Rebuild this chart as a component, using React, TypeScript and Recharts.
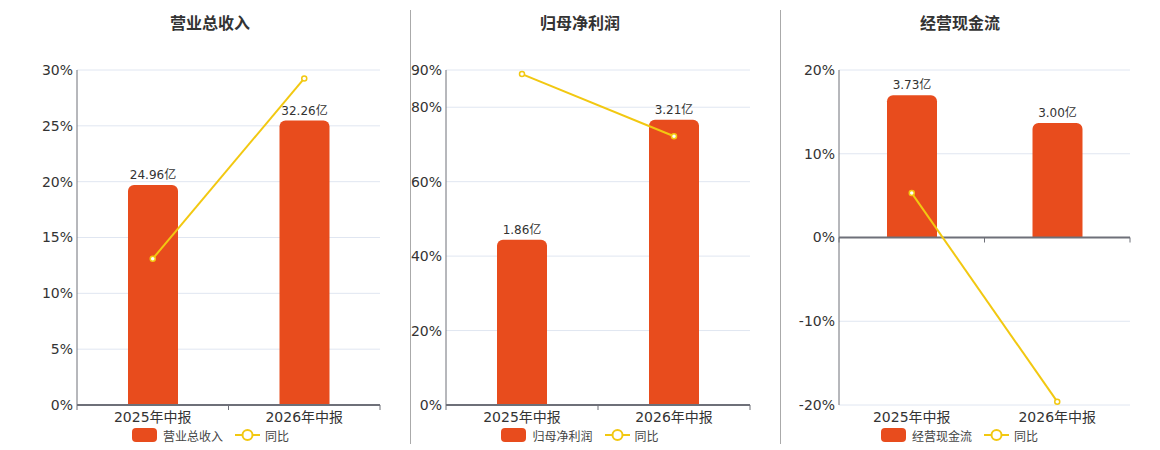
import React from 'react';
import {
  ComposedChart, Bar, Line, XAxis, YAxis, CartesianGrid, Legend, LabelList, ReferenceLine,
} from 'recharts';

// categories and values
const periods = ['2025年中报', '2026年中报'];

const revenue = [24.96, 32.26];
const revenueYoY = [13.1, 29.25];

const netProfit = [1.86, 3.21];
const netProfitYoY = [88.9, 72.2];

const cashFlow = [3.73, 3.0];
const cashFlowYoY = [5.3, -19.6];

const revenueTicks = [0, 5, 10, 15, 20, 25, 30];
const profitTicks = [0, 20, 40, 60, 80, 90];
const cashTicks = [-20, -10, 0, 10, 20];

const BAR = '#e84c1d';
const LINE = '#f2c811';
const AXIS = '#6e7079';
const GRID = '#e0e6f1';
const FONT = '"DejaVu Sans", "Noto Sans CJK SC", sans-serif';

const build = (values: number[], yoy: number[]) =>
  periods.map((p, i) => ({ name: p, value: values[i], yoy: yoy[i] }));

// zero line with ticks on the category boundaries
const ZeroAxis = (props: any) => {
  const { x1, x2, y1 } = props;
  const mid = (x1 + x2) / 2;
  return (
    <g>
      <line x1={x1} x2={x2} y1={y1} y2={y1} stroke={AXIS} strokeWidth={2} />
      {[x1, mid, x2].map((x, i) => (
        <line key={i} x1={x} x2={x} y1={y1} y2={y1 + 5} stroke={AXIS} strokeWidth={1} />
      ))}
    </g>
  );
};

const LegendBox = ({ label, shift }: { label: string; shift: number }) => (
  <div
    style={{
      display: 'flex', justifyContent: 'center', alignItems: 'center', height: 20,
      fontFamily: FONT, fontSize: 12, color: '#444', transform: `translateX(${shift}px)`,
    }}
  >
    <svg width={25} height={14} style={{ marginRight: 6 }}>
      <rect x={0} y={0} width={25} height={14} rx={4} fill={BAR} />
    </svg>
    <span style={{ marginRight: 12 }}>{label}</span>
    <svg width={25} height={14} style={{ marginRight: 5 }}>
      <line x1={0} x2={25} y1={7} y2={7} stroke={LINE} strokeWidth={2} />
      <circle cx={12.5} cy={7} r={5} fill="#fff" stroke={LINE} strokeWidth={2} />
    </svg>
    <span>同比</span>
  </div>
);

type PanelProps = {
  title: string;
  data: { name: string; value: number; yoy: number }[];
  left: number;
  width: number;
  margin: { top: number; right: number; bottom: number; left: number };
  yWidth: number;
  yDomain: [number, number];
  yTicks: number[];
  barDomain: [number, number];
  titleCenter: number;
  legendShift: number;
};

function Panel(p: PanelProps) {
  return (
    <div style={{ position: 'absolute', left: p.left, top: 0, width: p.width, height: 450 }}>
      <div
        style={{
          position: 'absolute', top: 12, left: p.titleCenter - p.left - 100, width: 200,
          textAlign: 'center', fontFamily: '"Noto Sans CJK SC", sans-serif', fontWeight: 700,
          fontSize: 16, color: '#333', lineHeight: '20px',
        }}
      >
        {p.title}
      </div>
      <ComposedChart width={p.width} height={450} data={p.data} margin={p.margin}>
        <CartesianGrid vertical={false} stroke={GRID} yAxisId="pct" />
        <XAxis
          dataKey="name"
          axisLine={false}
          tickLine={false}
          tickSize={0}
          tickMargin={7}
          height={20}
          interval={0}
          tick={{ fill: '#333', fontSize: 14, fontFamily: FONT }}
        />
        <YAxis
          yAxisId="pct"
          width={p.yWidth}
          domain={p.yDomain}
          ticks={p.yTicks}
          interval={0}
          allowDataOverflow
          tickFormatter={(v) => `${v}%`}
          axisLine={{ stroke: AXIS }}
          tickLine={false}
          tickSize={0}
          tickMargin={4}
          tick={{ fill: '#333', fontSize: 14, fontFamily: FONT }}
        />
        <YAxis yAxisId="amt" orientation="right" hide domain={p.barDomain} allowDataOverflow />
        <Bar
          yAxisId="amt"
          dataKey="value"
          fill={BAR}
          barSize={50}
          radius={[6, 6, 0, 0]}
          isAnimationActive={false}
        >
          <LabelList
            dataKey="value"
            position="top"
            offset={6}
            formatter={(v: any) => `${Number(v).toFixed(2)}亿`}
            style={{ fill: '#333', fontSize: 12, fontFamily: FONT }}
          />
        </Bar>
        <ReferenceLine yAxisId="pct" y={0} shape={ZeroAxis} />
        <Line
          yAxisId="pct"
          dataKey="yoy"
          type="linear"
          stroke={LINE}
          strokeWidth={2}
          dot={{ r: 2.5, fill: '#fff', stroke: LINE, strokeWidth: 1.5 }}
          isAnimationActive={false}
        />
        <Legend
          verticalAlign="bottom"
          height={20}
          content={() => <LegendBox label={p.title} shift={p.legendShift} />}
        />
      </ComposedChart>
    </div>
  );
}

export default function App() {
  return (
    <div style={{ position: 'absolute', left: 0, top: 0, width: 1160, height: 450, background: '#fff' }}>
      <Panel
        title="营业总收入"
        data={build(revenue, revenueYoY)}
        left={20}
        width={380}
        margin={{ top: 70, right: 20, bottom: 5, left: 7 }}
        yWidth={50}
        yDomain={[0, 30]}
        yTicks={revenueTicks}
        barDomain={[0, 38]}
        titleCenter={210}
        legendShift={7}
      />
      <Panel
        title="归母净利润"
        data={build(netProfit, netProfitYoY)}
        left={400}
        width={360}
        margin={{ top: 70, right: 10, bottom: 5, left: 0 }}
        yWidth={46}
        yDomain={[0, 90]}
        yTicks={profitTicks}
        barDomain={[0, 3.77]}
        titleCenter={580}
        legendShift={5}
      />
      <Panel
        title="经营现金流"
        data={build(cashFlow, cashFlowYoY)}
        left={780}
        width={360}
        margin={{ top: 70, right: 10, bottom: 5, left: 9 }}
        yWidth={50}
        yDomain={[-20, 20]}
        yTicks={cashTicks}
        barDomain={[-4.39, 4.39]}
        titleCenter={960}
        legendShift={0}
      />
      <div style={{ position: 'absolute', left: 410, top: 10, width: 1, height: 434, background: '#aaa' }} />
      <div style={{ position: 'absolute', left: 780, top: 10, width: 1, height: 434, background: '#aaa' }} />
    </div>
  );
}
